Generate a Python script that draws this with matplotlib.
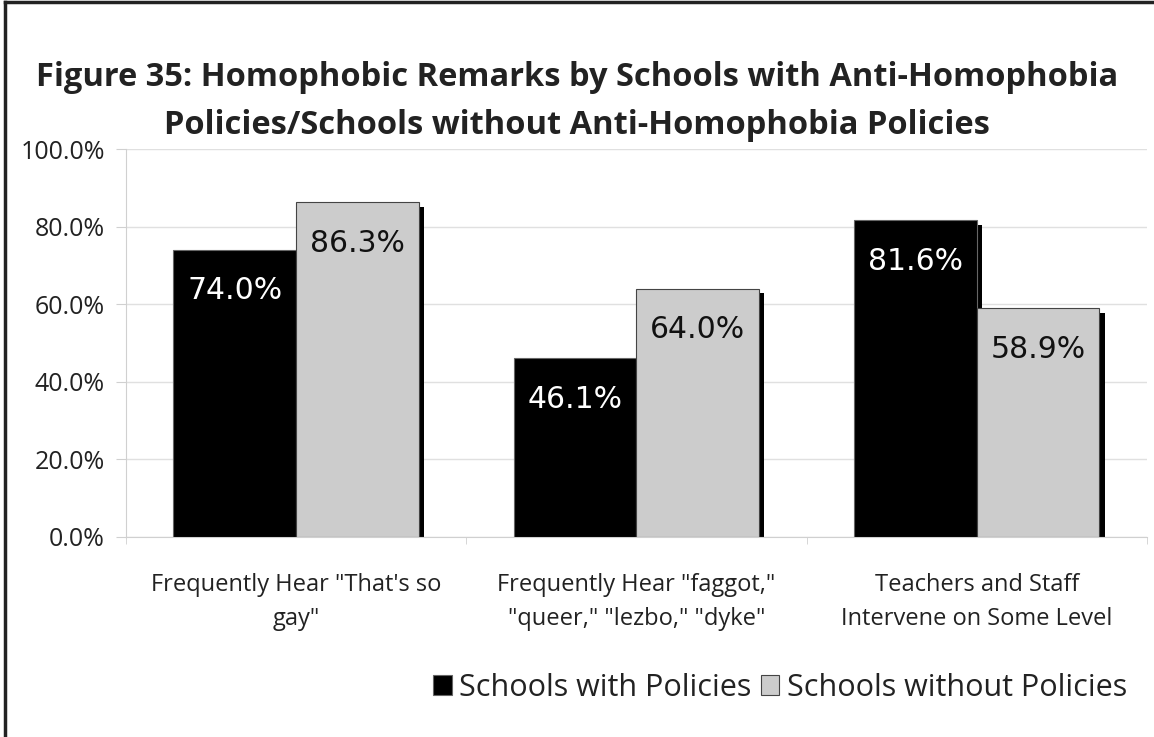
import numpy as np
import matplotlib.pyplot as plt
from matplotlib.lines import Line2D

categories = ['Frequently Hear "That\'s so\ngay"',
              'Frequently Hear "faggot,"\n"queer," "lezbo," "dyke"',
              'Teachers and Staff\nIntervene on Some Level']
with_policies = [74.0, 46.1, 81.6]
without_policies = [86.3, 64.0, 58.9]
series_names = ['Schools with Policies', 'Schools without Policies']
yticks = [0, 20, 40, 60, 80, 100]

label_font = 'Open Sans'

fig = plt.figure(figsize=(11.54, 7.37), dpi=100)
ax = fig.add_axes([0.109, 0.2714, 0.885, 0.5264])

x = np.arange(len(categories))
w = 0.36

# shadows behind the bars
ax.bar(x - w / 2 + 0.015, np.array(with_policies) - 1.2, w, bottom=0,
       color='black', zorder=2)
ax.bar(x + w / 2 + 0.015, np.array(without_policies) - 1.2, w, bottom=0,
       color='black', zorder=2)

b1 = ax.bar(x - w / 2, with_policies, w, color='black', edgecolor='#666666',
            linewidth=0.8, zorder=3, label=series_names[0])
b2 = ax.bar(x + w / 2, without_policies, w, color='#cccccc', edgecolor='#444444',
            linewidth=0.8, zorder=3, label=series_names[1])

for bars, vals, col in [(b1, with_policies, 'white'), (b2, without_policies, '#111111')]:
    for r, v in zip(bars, vals):
        ax.annotate(f'{v:.1f}%', (r.get_x() + r.get_width() / 2, v),
                    xytext=(0, -29.5), textcoords='offset points',
                    ha='center', va='center', fontsize=21.5, color=col,
                    family='DejaVu Sans', zorder=4)

ax.set_ylim(0, 100)
ax.set_xlim(-0.5, 2.5)
ax.set_yticks(yticks)
ax.set_yticklabels([f'{t:.1f}%' for t in yticks], fontsize=18, family=label_font,
                   color='#222222')
ax.set_xticks(x)
ax.set_xticklabels(categories, fontsize=17, family=label_font, color='#222222',
                   linespacing=1.55)
ax.tick_params(axis='x', length=0, pad=26)
ax.tick_params(axis='y', length=7, color='#d0d0d0', pad=8)
ax.set_xticks([-0.5, 0.5, 1.5, 2.5], minor=True)
ax.tick_params(axis='x', which='minor', length=5, color='#d0d0d0')
ax.yaxis.grid(True, color='#e0e0e0', linewidth=1, zorder=0)
ax.set_axisbelow(True)
for s in ['top', 'right']:
    ax.spines[s].set_visible(False)
for s in ['left', 'bottom']:
    ax.spines[s].set_color('#d0d0d0')

fig.text(0.5, 0.862, 'Figure 35: Homophobic Remarks by Schools with Anti-Homophobia\n'
         'Policies/Schools without Anti-Homophobia Policies',
         ha='center', va='center', fontsize=23.5, fontweight='bold',
         family='Open Sans', color='#222222', linespacing=1.6)

leg = fig.legend(handles=[b1, b2], labels=series_names, loc='center right',
                 bbox_to_anchor=(0.99, 0.067), ncol=2, frameon=False,
                 prop={'family': label_font, 'size': 22}, handlelength=0.6,
                 handleheight=0.6, handletextpad=0.25, columnspacing=0.3,
                 borderpad=0)
for t in leg.get_texts():
    t.set_color('#222222')

# figure border on left and top
fig.add_artist(Line2D([0.004, 0.004], [0, 0.997], color='#222222', linewidth=2.5,
                      transform=fig.transFigure))
fig.add_artist(Line2D([0.004, 1], [0.997, 0.997], color='#222222', linewidth=2.5,
                      transform=fig.transFigure))

fig.savefig('out.png', dpi=100)
